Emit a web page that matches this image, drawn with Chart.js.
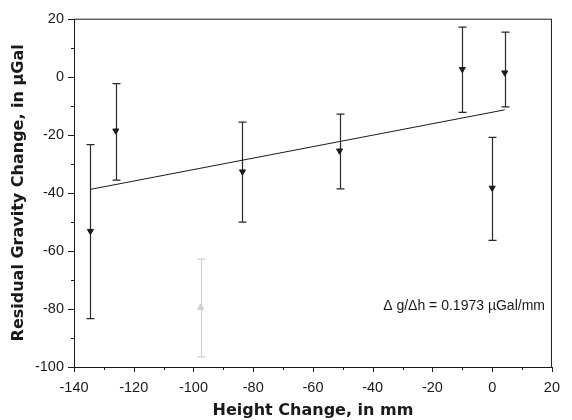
<!DOCTYPE html>
<html>
<head>
<meta charset="utf-8">
<script src="https://cdn.jsdelivr.net/npm/chart.js@4.4.1/dist/chart.umd.min.js"></script>
<style>
  html, body { margin: 0; padding: 0; background: #fff; }
  #wrap { width: 572px; height: 420px; }
</style>
</head>
<body>
<div id="wrap"><canvas id="c" width="572" height="420"></canvas></div>
<script>
// ---------- data ----------
const heightMm   = [-134.5, -126, -83.6, -51.1, -10, 4.2, 0, -97.6];
const gravity    = [-53.2, -18.6, -32.7, -25.5, 2.6, 1.4, -38.3, -79.5];
const errTop     = [-23.4, -2.4, -15.6, -12.9, 17.1, 15.4, -20.9, -62.8];
const errBottom  = [-83.3, -35.6, -50.1, -38.6, -12.3, -10.4, -56.4, -96.5];
const excluded   = [false, false, false, false, false, false, false, true];

// fitted line end points
const fitX = [-134.5, 4.2];
const fitY = [-38.8, -11.4];

const xTicks = [-140, -120, -100, -80, -60, -40, -20, 0, 20];
const yTicks = [-100, -80, -60, -40, -20, 0, 20];
const slopeLabel = '\u0394 g/\u0394h = 0.1973 \u00b5Gal/mm';

const FONT = "'Liberation Sans', Arial, sans-serif";
const TITLE_FONT = "'DejaVu Sans', 'Liberation Sans', sans-serif";
const INK = '#1a1a1a';
const GREY = '#cfcfcf';

const pts = (keep) => heightMm
  .map((x, i) => ({ x, y: gravity[i], i }))
  .filter(p => excluded[p.i] === keep);

// ---------- plugins ----------
const frameAndTicks = {
  id: 'frameAndTicks',
  afterDraw(chart) {
    const { ctx, chartArea: a, scales: { x, y } } = chart;
    ctx.save();
    ctx.strokeStyle = INK;
    ctx.lineWidth = 1;
    ctx.strokeRect(a.left + 0.5, a.top + 0.5, a.right - a.left - 1, a.bottom - a.top);
    ctx.beginPath();
    for (let v = -140; v <= 20; v += 10) {
      const px = Math.round(x.getPixelForValue(v)) + 0.5;
      const len = v % 20 === 0 ? 5 : 3;
      ctx.moveTo(px, a.bottom); ctx.lineTo(px, a.bottom + len);
    }
    for (let v = -100; v <= 20; v += 10) {
      const py = Math.round(y.getPixelForValue(v)) + 0.5;
      const len = v % 20 === 0 ? 6 : 3;
      ctx.moveTo(a.left, py); ctx.lineTo(a.left - len, py);
    }
    ctx.stroke();
    // slope text
    ctx.fillStyle = INK;
    ctx.font = '14px ' + FONT;
    ctx.textBaseline = 'middle';
    ctx.textAlign = 'left';
    ctx.fillText(slopeLabel, x.getPixelForValue(-36.5), y.getPixelForValue(-79));
    ctx.restore();
  }
};

const errorBars = {
  id: 'errorBars',
  beforeDatasetsDraw(chart) {
    const { ctx, scales: { x, y } } = chart;
    ctx.save();
    ctx.lineWidth = 1.2;
    heightMm.forEach((hx, i) => {
      const px = Math.round(x.getPixelForValue(hx)) + 0.5;
      const t = y.getPixelForValue(errTop[i]);
      const b = y.getPixelForValue(errBottom[i]);
      ctx.strokeStyle = excluded[i] ? GREY : '#2a2a2a';
      ctx.beginPath();
      ctx.moveTo(px, t); ctx.lineTo(px, b);
      ctx.moveTo(px - 4, t); ctx.lineTo(px + 4, t);
      ctx.moveTo(px - 4, b); ctx.lineTo(px + 4, b);
      ctx.stroke();
    });
    ctx.restore();
  }
};

// ---------- chart ----------
new Chart(document.getElementById('c').getContext('2d'), {
  type: 'scatter',
  data: {
    datasets: [
      {
        data: fitX.map((x, i) => ({ x, y: fitY[i] })),
        showLine: true, borderColor: INK, borderWidth: 1, pointRadius: 0, order: 2
      },
      {
        data: pts(false),
        pointStyle: 'triangle', rotation: 180, pointRadius: 3.5,
        backgroundColor: INK, borderColor: INK, borderWidth: 1, order: 1
      },
      {
        data: pts(true),
        pointStyle: 'triangle', rotation: 0, pointRadius: 3.5,
        backgroundColor: GREY, borderColor: GREY, borderWidth: 1, order: 1
      }
    ]
  },
  options: {
    responsive: false,
    animation: false,
    layout: { padding: { top: 17, right: 10, left: 0, bottom: 0 } },
    plugins: { legend: { display: false }, tooltip: { enabled: false } },
    scales: {
      x: {
        type: 'linear', min: -140, max: 20,
        afterBuildTicks: s => { s.ticks = xTicks.map(v => ({ value: v })); },
        afterFit: s => { s.height = 53; },
        grid: { display: false, drawTicks: false },
        border: { display: false },
        ticks: { color: INK, padding: 12, maxRotation: 0, font: { family: FONT, size: 14.5 } },
        title: { display: true, text: 'Height Change, in mm', color: INK, padding: 0,
                 font: { family: TITLE_FONT, size: 16, weight: 'bold' } }
      },
      y: {
        type: 'linear', min: -100, max: 20,
        afterBuildTicks: s => { s.ticks = yTicks.map(v => ({ value: v })); },
        afterFit: s => { s.width = 74; },
        grid: { display: false, drawTicks: false },
        border: { display: false },
        ticks: { color: INK, padding: 10, font: { family: FONT, size: 14.5 } },
        title: { display: true, text: 'Residual Gravity Change, in \u03bcGal', color: INK, padding: 9,
                 font: { family: TITLE_FONT, size: 16, weight: 'bold' } }
      }
    }
  },
  plugins: [errorBars, frameAndTicks]
});
</script>
</body>
</html>
